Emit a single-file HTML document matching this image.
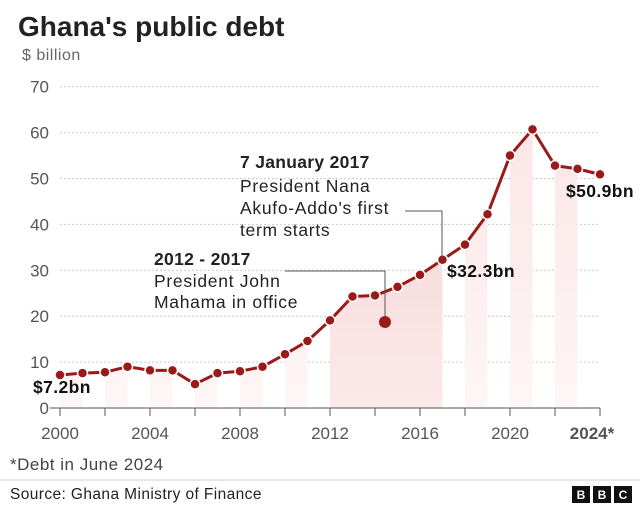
<!DOCTYPE html>
<html><head><meta charset="utf-8"><style>
body{margin:0;width:640px;height:508px;background:#fff;font-family:"Liberation Sans",sans-serif;overflow:hidden}
svg{display:block}
</style></head><body>
<svg width="640" height="508">
<defs><clipPath id="stripes"></clipPath><clipPath id="mahama"><rect x="330" y="0" width="112.5" height="408"/></clipPath>
<linearGradient id="gl" x1="0" y1="0" x2="0" y2="1"><stop offset="0" stop-color="#fbe6e6"/><stop offset="1" stop-color="#fef6f6"/></linearGradient>
<linearGradient id="gd" x1="0" y1="0" x2="0" y2="1"><stop offset="0" stop-color="#f6d2d2"/><stop offset="1" stop-color="#fbeaea"/></linearGradient>
</defs>
<text x="18" y="36" font-size="28" font-weight="bold" fill="#222">Ghana's public debt</text>
<text x="22" y="60" font-size="16" fill="#666" letter-spacing="0.5">$ billion</text>
<g id="grid"></g>
<path id="areaLight" fill="url(#gl)" clip-path="url(#stripes)"/>
<path id="areaDark" fill="url(#gd)" clip-path="url(#mahama)"/>
<g id="axis"></g>
<path id="line" fill="none" stroke="#9a1a1a" stroke-width="3"/>
<g id="dots"></g>
<polyline points="285,271 385,271 385,322" fill="none" stroke="#555" stroke-width="1"/>
<circle cx="385" cy="322" r="6" fill="#9a1a1a"/>
<polyline points="405,211 442,211 442,258" fill="none" stroke="#555" stroke-width="1"/>
<g font-size="17.5" fill="#222" letter-spacing="0.7">
<text x="154" y="265" font-weight="bold" letter-spacing="0.3">2012 - 2017</text>
<text x="154" y="287">President John</text>
<text x="154" y="308">Mahama in office</text></g>
<g font-size="17.5" fill="#222" letter-spacing="0.7">
<text x="240" y="168" font-weight="bold" letter-spacing="0.3">7 January 2017</text>
<text x="240" y="192">President Nana</text>
<text x="240" y="214">Akufo-Addo's first</text>
<text x="240" y="236">term starts</text></g>
<g font-size="17.5" font-weight="bold" fill="#111" letter-spacing="0.4">
<text x="33" y="393">$7.2bn</text>
<text x="447" y="277">$32.3bn</text>
<text x="566" y="197">$50.9bn</text></g>
<text x="10" y="470" font-size="17" fill="#444" letter-spacing="0.5">*Debt in June 2024</text>
<line x1="0" y1="480" x2="640" y2="480" stroke="#ccc"/>
<text x="10" y="499" font-size="15.5" fill="#222" letter-spacing="0.4">Source: Ghana Ministry of Finance</text>
<g font-size="12" font-weight="bold" fill="#fff" text-anchor="middle">
<rect x="572" y="486" width="18" height="17" fill="#111"/><text x="581" y="499">B</text>
<rect x="593" y="486" width="18" height="17" fill="#111"/><text x="602" y="499">B</text>
<rect x="614" y="486" width="18" height="17" fill="#111"/><text x="623" y="499">C</text></g>
</svg>
<script>
const years=[2000,2001,2002,2003,2004,2005,2006,2007,2008,2009,2010,2011,2012,2013,2014,2015,2016,2017,2018,2019,2020,2021,2022,2023,2024];
const debt=[7.2,7.6,7.8,9.0,8.2,8.2,5.2,7.6,8.0,9.0,11.7,14.6,19.1,24.3,24.5,26.4,29.0,32.3,35.6,42.2,55.0,60.7,52.8,52.1,50.9];
const yTicks=[0,10,20,30,40,50,60,70];
const xTicks=[2000,2004,2008,2012,2016,2020,2024];
const xTickLabels=["2000","2004","2008","2012","2016","2020","2024*"];
const stripeStarts=[2000,2002,2004,2006,2008,2010,2018,2020,2022];
const NS="http://www.w3.org/2000/svg";
const x=v=>60+(v-2000)*22.5, y=v=>408-v*4.59;
function mk(t,a,p){const e=document.createElementNS(NS,t);for(const k in a)e.setAttribute(k,a[k]);p.appendChild(e);return e;}
const grid=document.getElementById('grid');
yTicks.forEach(t=>{
 if(t>0){const l=mk('line',{x1:60,x2:600,y1:y(t),y2:y(t),stroke:'#ccc','stroke-dasharray':'2,2'},grid);
 
 }
 const tx=mk('text',{x:49,y:y(t)+6,'font-size':17,fill:'#555','text-anchor':'end'},grid);tx.textContent=t;
 
 
});
const cp=document.getElementById('stripes');
stripeStarts.forEach(s=>mk('rect',{x:x(s),y:0,width:22.5,height:408},cp));
let d='M'+x(years[0])+',408';years.forEach((yr,i)=>d+=' L'+x(yr)+','+y(debt[i]));d+=' L'+x(years[years.length-1])+',408Z';
document.getElementById('areaLight').setAttribute('d',d);
document.getElementById('areaDark').setAttribute('d',d);
const ax=document.getElementById('axis');
const al=mk('line',{x1:50,x2:600,y1:408,y2:408,stroke:'#555'},ax);


for(let yr=2000;yr<=2024;yr+=2)mk('line',{x1:x(yr),x2:x(yr),y1:408,y2:416,stroke:'#555'},ax);
xTicks.forEach((t,i)=>{const tx=mk('text',{x:x(t),y:439,'font-size':17,fill:'#555','text-anchor':'middle'},ax);
 if(i==xTicks.length-1){tx.setAttribute('font-weight','bold');tx.setAttribute('x',x(t)-8);}
 tx.textContent=xTickLabels[i];
 
 });
let ld='';years.forEach((yr,i)=>ld+=(i?' L':'M')+x(yr)+','+y(debt[i]));
document.getElementById('line').setAttribute('d',ld);
const dots=document.getElementById('dots');
years.forEach((yr,i)=>{const c=mk('circle',{cx:x(yr),cy:y(debt[i]),r:5,fill:'#9a1a1a',stroke:'#fff','stroke-width':1.5},dots);
 
 });
</script>
</body></html>
